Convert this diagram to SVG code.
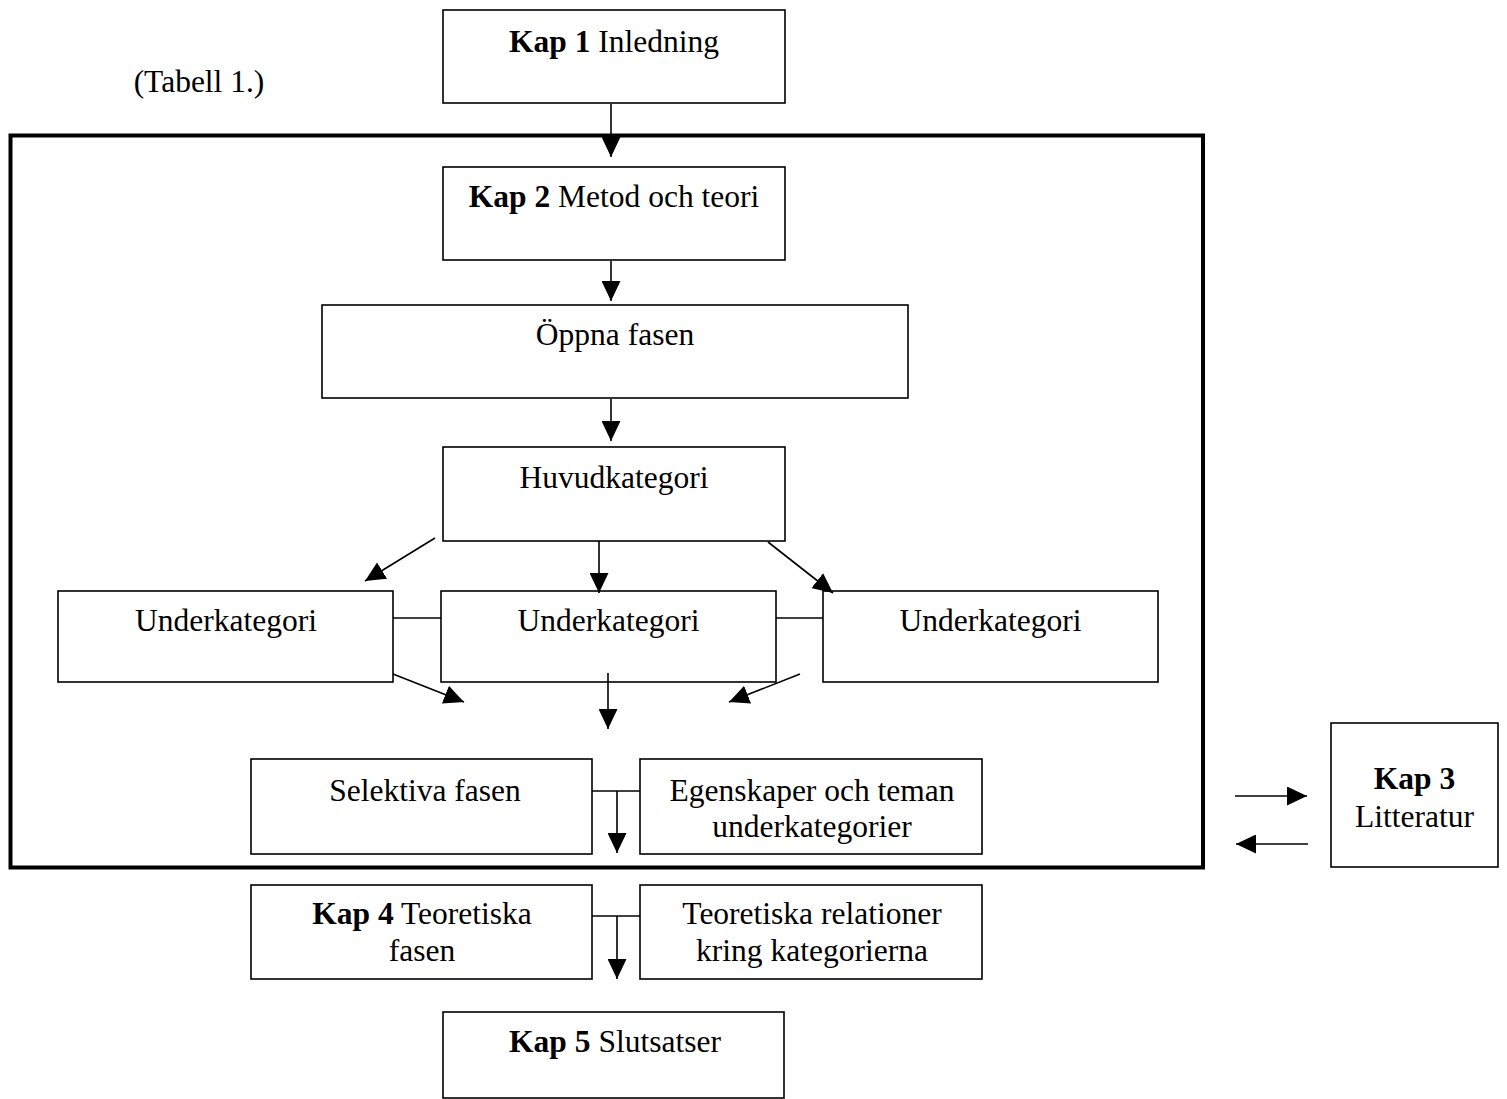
<svg xmlns="http://www.w3.org/2000/svg" width="1507" height="1099" viewBox="0 0 1507 1099">
<style>
.box{fill:#fff;stroke:#000;stroke-width:1.6}
.ln{stroke:#000;stroke-width:1.6;fill:none}
.arr{stroke:#000;stroke-width:1.6;fill:none;marker-end:url(#ah)}
text{font-family:"Liberation Serif","Times New Roman",serif;font-size:31.5px;fill:#000;text-anchor:middle}
.b{font-weight:bold}
</style>
<defs>
<marker id="ah" markerUnits="userSpaceOnUse" markerWidth="20" markerHeight="19" refX="20" refY="9.5" orient="auto" viewBox="0 0 20 19">
<path d="M0,0 L20,9.5 L0,19 z" fill="#000"/>
</marker>
</defs>
<rect width="1507" height="1099" fill="#fff"/>
<text x="199" y="92">(Tabell 1.)</text>
<rect id="frame" x="10.5" y="135.5" width="1192.5" height="732" fill="none" stroke="#000" stroke-width="4"/>
<g id="kap1"><rect class="box" x="443" y="10" width="342" height="93"/><text x="614" y="52"><tspan class="b">Kap 1</tspan> Inledning</text></g>
<g id="kap2"><rect class="box" x="443" y="167" width="342" height="93"/><text x="614" y="207"><tspan class="b">Kap 2</tspan> Metod och teori</text></g>
<g id="oppna"><rect class="box" x="322" y="305" width="586" height="93"/><text x="615" y="345">Öppna fasen</text></g>
<g id="huvud"><rect class="box" x="443" y="447" width="342" height="94"/><text x="614" y="488">Huvudkategori</text></g>
<g id="under1"><rect class="box" x="58" y="591" width="335" height="91"/><text x="226" y="631">Underkategori</text></g>
<g id="under2"><rect class="box" x="441" y="591" width="335" height="91"/><text x="608.5" y="631">Underkategori</text></g>
<g id="under3"><rect class="box" x="823" y="591" width="335" height="91"/><text x="990.5" y="631">Underkategori</text></g>
<g id="selektiva"><rect class="box" x="251" y="759" width="341" height="95"/><text x="425" y="801">Selektiva fasen</text></g>
<g id="egenskaper"><rect class="box" x="640" y="759" width="342" height="95"/><text x="812" y="801">Egenskaper och teman</text><text x="812" y="837">underkategorier</text></g>
<g id="kap4"><rect class="box" x="251" y="885" width="341" height="94"/><text x="422" y="924"><tspan class="b">Kap 4</tspan> Teoretiska</text><text x="422" y="961">fasen</text></g>
<g id="teoretiska"><rect class="box" x="640" y="885" width="342" height="94"/><text x="812" y="924">Teoretiska relationer</text><text x="812" y="961">kring kategorierna</text></g>
<g id="kap5"><rect class="box" x="443" y="1012" width="341" height="86"/><text x="615" y="1052"><tspan class="b">Kap 5</tspan> Slutsatser</text></g>
<g id="kap3"><rect class="box" x="1331" y="723" width="167" height="144"/><text x="1414.5" y="789" class="b">Kap 3</text><text x="1414.5" y="827">Litteratur</text></g>
<g id="connectors">
<line class="arr" x1="611" y1="104" x2="611" y2="157"/>
<line class="arr" x1="611" y1="261" x2="611" y2="301"/>
<line class="arr" x1="611" y1="399" x2="611" y2="441"/>
<line class="arr" x1="599" y1="541" x2="599" y2="593"/>
<line class="arr" x1="435" y1="538" x2="365" y2="581"/>
<line class="arr" x1="768" y1="542" x2="833" y2="593"/>
<line class="ln" x1="393" y1="618" x2="441" y2="618"/>
<line class="ln" x1="776" y1="618" x2="823" y2="618"/>
<line class="arr" x1="393" y1="674" x2="464" y2="702"/>
<line class="arr" x1="608" y1="673" x2="608" y2="729"/>
<line class="arr" x1="800" y1="674" x2="729" y2="702"/>
<line class="ln" x1="592" y1="791" x2="640" y2="791"/>
<line class="arr" x1="617" y1="791" x2="617" y2="853"/>
<line class="ln" x1="592" y1="916" x2="640" y2="916"/>
<line class="arr" x1="617" y1="916" x2="617" y2="979"/>
<line class="arr" x1="1235" y1="796" x2="1307" y2="796"/>
<line class="arr" x1="1308" y1="844" x2="1236" y2="844"/>
</g>
</svg>
